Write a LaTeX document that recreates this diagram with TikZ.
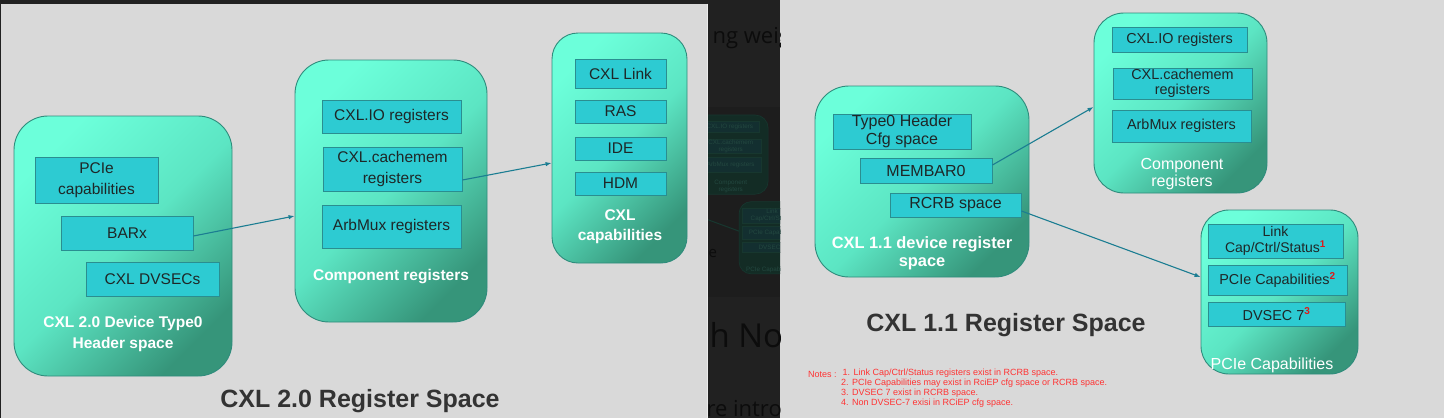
\documentclass[tikz,border=0pt]{standalone}
\usepackage{fontspec}
\setmainfont{Liberation Sans}
\newfontfamily\bgfont{Open Sans}
\usetikzlibrary{arrows.meta}

\definecolor{slidegray}{HTML}{D9D9D9}
\definecolor{darkband}{HTML}{212121}
\definecolor{thumbdark}{HTML}{1D1D1D}
\definecolor{pagetext}{HTML}{0C0C0C}
\definecolor{aqlight}{HTML}{6CFFDA}
\definecolor{aqmid}{HTML}{5CE5C3}
\definecolor{aqdark}{HTML}{36957A}
\definecolor{boxedge}{HTML}{2F8C7C}
\definecolor{regfill}{HTML}{2DCBD2}
\definecolor{regedge}{HTML}{2A8E90}
\definecolor{regtext}{HTML}{1E2727}
\definecolor{linkblue}{HTML}{1B7D92}
\definecolor{titlegray}{HTML}{333333}
\definecolor{notered}{HTML}{FF3333}
\definecolor{supred}{HTML}{E01818}
\definecolor{dimgreen}{HTML}{132C25}
\definecolor{dimedge}{HTML}{17372F}
\definecolor{diminner}{HTML}{132F30}
\definecolor{dimtext}{HTML}{234840}

\begin{document}
\begin{tikzpicture}[x=1pt,y=-1pt,>={Latex[length=6pt,width=4.5pt]},
    bigbox/.style={draw=boxedge,line width=0.9pt,rounded corners=#1,
      top color=aqlight,bottom color=aqdark,middle color=aqmid,shading angle=45},
    bigbox/.default=32pt,
    regbox/.style={draw=regedge,line width=0.9pt,fill=regfill,text=regtext,
      align=center,inner sep=0pt},
    boxlabel/.style={text=white,align=center},
    slidetitle/.style={font=\bfseries\fontsize{25}{30}\selectfont,text=titlegray,anchor=base},
    ptr/.style={->,draw=linkblue,line width=1.1pt},
    dimbox/.style={draw=dimedge,fill=dimgreen,line width=0.6pt},
    dimreg/.style={draw=dimedge,fill=diminner,line width=0.5pt},
    dimlabel/.style={text=dimtext,align=center,font=\fontsize{6.3}{7}\selectfont}]
  \useasboundingbox (0,0) rectangle (1444,418);

  % page behind the two slides
  \fill[darkband] (0,0) rectangle (1444,418);
  \fill[slidegray] (1,3.5) rectangle (707.5,418);
  \fill[slidegray] (780,0) rectangle (1444,418);
  \draw[white!92!black,line width=0.8pt] (707.5,3.5) -- (707.5,418);

  % darkened page strip between the slides
  \begin{scope}
    \clip (708,3.5) rectangle (780,418);
    \fill[thumbdark] (708,107) rectangle (780,297);
    \node[anchor=base west,text=pagetext,font=\bgfont\fontsize{22}{26}\selectfont] (frag1) at (709,43) {ng weigh};
    \node[anchor=base west,text=pagetext,font=\bgfont\fontsize{33}{38}\selectfont] (frag2) at (706,347) {h No};
    \node[anchor=base west,text=pagetext,font=\bgfont\fontsize{22}{26}\selectfont] (frag3) at (703,416) {re introd};
    \node[anchor=base west,text=pagetext,font=\bgfont\fontsize{15}{18}\selectfont] (frag4) at (705,257) {e};
    \begin{scope}[shift={(210.64,109.28)},scale=0.44]
      \draw[dimbox,rounded corners=13pt] (1094,13) rectangle (1267,193);
      \draw[dimreg] (1112,27) rectangle (1247,52);
      \draw[dimreg] (1113,68) rectangle (1252,99);
      \draw[dimreg] (1112,110) rectangle (1251,142);
      \node[dimlabel] (thioa) at (1180,40) {CXL.IO registers};
      \node[dimlabel] (thcma) at (1182,84) {CXL.cachemem\\registers};
      \node[dimlabel] (tharba) at (1182,126) {ArbMux registers};
      \node[dimlabel] (thcompa) at (1182,175) {Component\\registers};
      \draw[dimbox,rounded corners=12pt] (1201,210) rectangle (1358,374);
      \draw[dimreg] (1208,224) rectangle (1343,258);
      \draw[dimreg] (1208,265) rectangle (1347,295);
      \draw[dimreg] (1208,302) rectangle (1345,326);
      \node[dimlabel] (thlink) at (1276,241) {Link\\Cap/Ctrl/Status};
      \node[dimlabel] (thpcap) at (1278,280) {PCIe Capabilities};
      \node[dimlabel] (thdv) at (1276,314) {DVSEC 7};
      \node[dimlabel] (thpciea) at (1272,365) {PCIe Capabilities};
      \draw[dimedge,line width=1pt] (1021,211) -- (1201,277);
    \end{scope}
  \end{scope}

  % CXL 2.0 slide
  \begin{scope}[font=\fontsize{15.5}{21}\selectfont]
    \node[bigbox=34pt,minimum width=218pt,minimum height=260pt] (hdr20) at (123,246) {};
    \node[regbox,minimum width=123pt,minimum height=46pt] (pcie20) at (96.5,180) {PCIe\\capabilities};
    \node[regbox,minimum width=132pt,minimum height=34pt] (barx) at (127,233) {BARx};
    \node[regbox,minimum width=133pt,minimum height=34pt] (dvsec20) at (152.5,279) {CXL DVSECs};
    \node[boxlabel,font=\bfseries\fontsize{15.5}{21}\selectfont] (hdr20lbl) at (123,333.5) {CXL 2.0 Device Type0\\Header space};

    \node[bigbox=34pt,minimum width=192pt,minimum height=262pt] (comp20) at (391,191) {};
    \node[regbox,minimum width=139pt,minimum height=33pt] (io20) at (391.5,116.5) {CXL.IO registers};
    \node[regbox,minimum width=139pt,minimum height=44pt] (cm20) at (392.5,169) {CXL.cachemem\\registers};
    \node[regbox,minimum width=139pt,minimum height=43pt] (arb20) at (391.5,226.5) {ArbMux registers};
    \node[boxlabel,font=\bfseries\fontsize{15.5}{21}\selectfont] (comp20lbl) at (391,277) {Component registers};

    \node[bigbox=26pt,minimum width=135pt,minimum height=230pt] (caps20) at (619.5,148) {};
    \node[regbox,minimum width=91pt,minimum height=29pt] (cxllink) at (620.5,73.5) {CXL Link};
    \node[regbox,minimum width=91pt,minimum height=23pt] (ras) at (620.5,111.5) {RAS};
    \node[regbox,minimum width=91pt,minimum height=23pt] (ide) at (620.5,148.5) {IDE};
    \node[regbox,minimum width=91pt,minimum height=23pt] (hdm) at (620.5,183.5) {HDM};
    \node[boxlabel,font=\bfseries\fontsize{15.5}{20}\selectfont] (caps20lbl) at (620,227) {CXL\\capabilities};
  \end{scope}
  \node[slidetitle] (title20) at (360,407) {CXL 2.0 Register Space};

  \draw[ptr] ([yshift=-3pt]barx.east) -- ([yshift=-25pt]comp20.west);
  \draw[ptr] ([yshift=-11pt]cm20.east) -- ([yshift=-15pt]caps20.west);

  % CXL 1.1 slide
  \begin{scope}[font=\fontsize{16}{18}\selectfont]
    \node[bigbox=34pt,minimum width=214pt,minimum height=191pt] (dev11) at (922,181.5) {};
    \node[regbox,minimum width=138pt,minimum height=35pt] (type0) at (902,131.5) {Type0 Header\\Cfg space};
    \node[regbox,minimum width=132pt,minimum height=25pt] (membar) at (926,170.5) {MEMBAR0};
    \node[regbox,minimum width=131pt,minimum height=24pt] (rcrb) at (955.5,205) {RCRB space};
    \node[boxlabel,font=\bfseries\fontsize{16.4}{18}\selectfont] (dev11lbl) at (922,253) {CXL 1.1 device register\\space};
  \end{scope}

  \begin{scope}[font=\fontsize{14.4}{15}\selectfont]
    \node[bigbox=30pt,minimum width=173pt,minimum height=180pt] (comp11) at (1180.5,103) {};
    \node[regbox,minimum width=135pt,minimum height=25pt] (io11) at (1179.5,39.5) {CXL.IO registers};
    \node[regbox,minimum width=139pt,minimum height=31pt] (cm11) at (1182.5,83.5) {CXL.cachemem\\registers};
    \node[regbox,minimum width=139pt,minimum height=32pt] (arb11) at (1181.5,126) {ArbMux registers};
    \node[boxlabel,font=\fontsize{16}{17}\selectfont] (comp11lbl) at (1182,174.5) {Component\\registers};

    \node[bigbox=28pt,minimum width=157pt,minimum height=164pt] (pcie11) at (1279.5,292) {};
    \node[regbox,minimum width=135pt,minimum height=34pt,font=\fontsize{14}{16}\selectfont] (linkcap) at (1275.5,241)
      {Link\\Cap/Ctrl/Status\textsuperscript{\textcolor{supred}{\bfseries 1}}};
    \node[regbox,minimum width=139pt,minimum height=30pt] (pcap) at (1277.5,280)
      {PCIe Capabilities\textsuperscript{\textcolor{supred}{\bfseries 2}}};
    \node[regbox,minimum width=137pt,minimum height=24pt] (dvsec7) at (1276.5,314)
      {DVSEC 7\textsuperscript{\textcolor{supred}{\bfseries 3}}};
    \node[boxlabel,font=\fontsize{16}{18}\selectfont] (pcie11lbl) at (1272,365) {PCIe Capabilities};
  \end{scope}
  \node[slidetitle] (title11) at (1006,331) {CXL 1.1 Register Space};

  \draw[ptr] ([yshift=5.5pt]membar.east) -- ([yshift=-4pt]comp11.west);
  \draw[ptr] ([yshift=-6pt]rcrb.east) -- ([yshift=15pt]pcie11.west);

  % notes under the 1.1 picture
  \node[anchor=west,text=notered,font=\fontsize{9}{10}\selectfont,inner sep=0pt] (notehd) at (808,374) {Notes :};
  \node[anchor=north west,text=notered,align=left,font=\fontsize{9}{10}\selectfont,inner sep=0pt] (notelist) at (841,369.2)
    {\,1. Link Cap/Ctrl/Status registers exist in RCRB space.\\
     2. PCIe Capabilities may exist in RciEP cfg space or RCRB space.\\
     3. DVSEC 7 exist in RCRB space.\\
     4. Non DVSEC-7 exisi in RCiEP cfg space.};
\end{tikzpicture}
\end{document}
